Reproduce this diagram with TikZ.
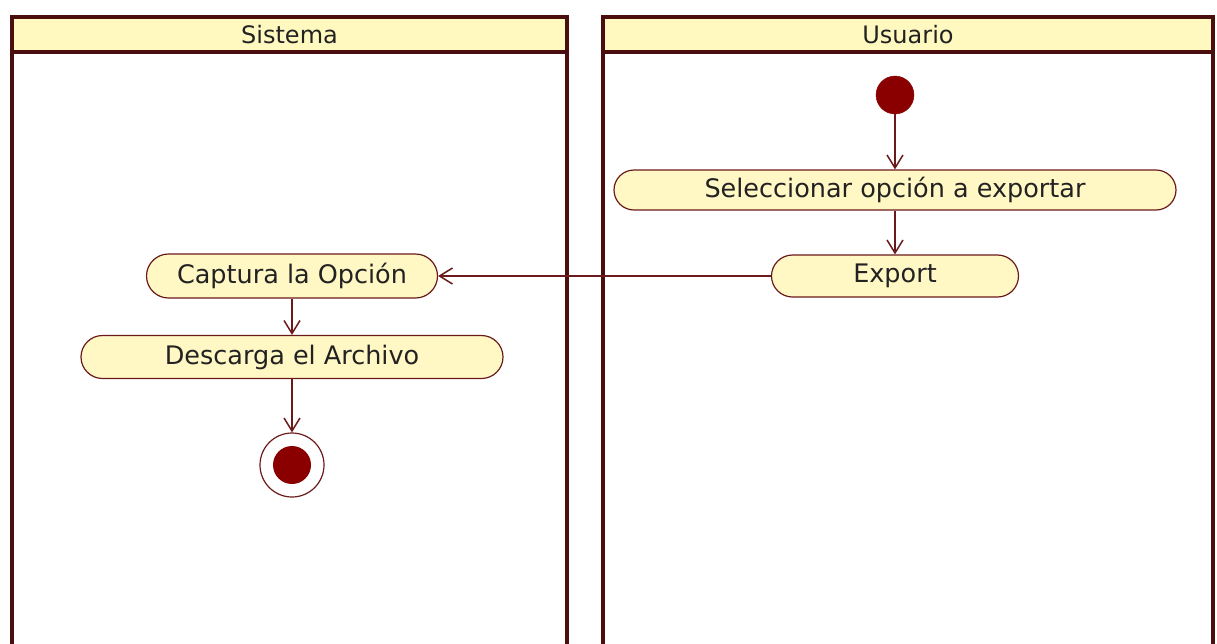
\documentclass[tikz,border=0pt]{standalone}
\usepackage{fontspec}
\setmainfont{DejaVu Sans}
\usetikzlibrary{shapes.misc,arrows.meta}
\definecolor{lane}{HTML}{4A0E0E}
\definecolor{hdr}{HTML}{FFF9C0}
\definecolor{act}{HTML}{FFF7C4}
\definecolor{dot}{HTML}{8A0000}
\definecolor{edge}{HTML}{6A1A1A}
\definecolor{txt}{HTML}{222222}
\tikzset{
  lanebox/.style={draw=lane, line width=3.5pt},
  hdrbox/.style={draw=lane, fill=hdr, line width=3.5pt},
  hdrtext/.style={font=\fontsize{24}{28}\selectfont, text=txt},
  activity/.style={rounded rectangle, draw=edge, line width=1.2pt, fill=act, inner sep=0pt,
    font=\fontsize{25.5}{28}\selectfont, text=txt},
  flow/.style={draw=edge, line width=1.5pt, -{Straight Barb[length=13pt,width=16pt,line width=1.5pt]}},
  initnode/.style={circle, fill=dot, draw=dot, minimum size=38pt, inner sep=0pt},
}
\begin{document}
\begin{tikzpicture}[x=1pt,y=-1pt]
\useasboundingbox (0,0) rectangle (1217,643);
\begin{scope}
\clip (0,0) rectangle (1217,643);
% Sistema lane
\draw[lanebox] (12,17) rectangle (567,660);
\draw[hdrbox] (12,17) rectangle (567,52);
\node[hdrtext] (hS) at (289.5,35) {Sistema};
% Usuario lane
\draw[lanebox] (603,17) rectangle (1213,660);
\draw[hdrbox] (603,17) rectangle (1213,52);
\node[hdrtext] (hU) at (908,35) {Usuario};
\end{scope}
% nodes
\node[initnode] (start) at (895,95) {};
\node[activity, minimum width=562pt, minimum height=40pt] (sel) at (895,190) {Seleccionar opción a exportar};
\node[activity, minimum width=247pt, minimum height=42pt] (exp) at (895,276) {Export};
\node[activity, minimum width=291pt, minimum height=44pt] (cap) at (292,276) {Captura la Opción};
\node[activity, minimum width=422pt, minimum height=43pt] (des) at (292,357) {Descarga el Archivo};
\node[circle, draw=edge, line width=1.2pt, fill=white, minimum size=64pt, inner sep=0pt] (end) at (292,465) {};
\node[circle, fill=dot, minimum size=38pt, inner sep=0pt] (endin) at (end.center) {};
% flows
\draw[flow] (start) -- (sel.north);
\draw[flow] (sel.south) -- (exp.north);
\draw[flow] (exp.west) -- (cap.east);
\draw[flow] (cap.south) -- (des.north);
\draw[flow] (des.south) -- (end.north);
\end{tikzpicture}
\end{document}
